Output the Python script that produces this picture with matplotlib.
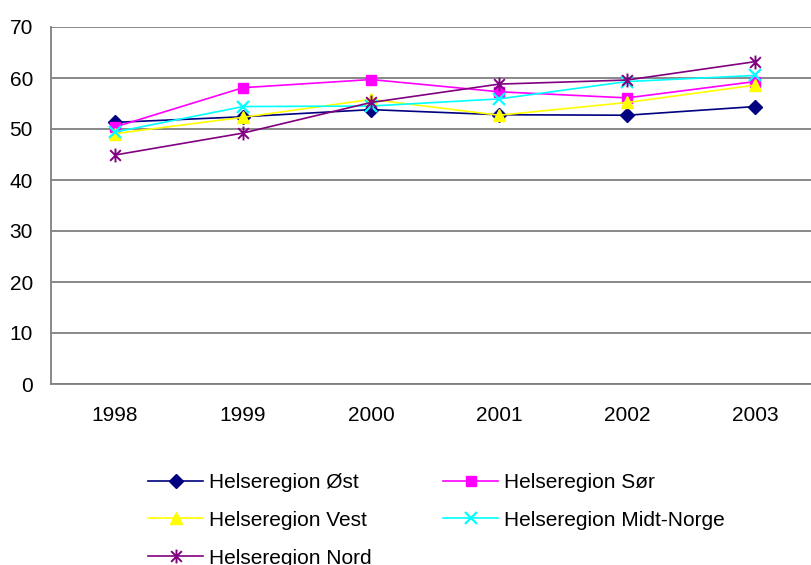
import matplotlib
matplotlib.use("Agg")
import matplotlib.pyplot as plt
from matplotlib.path import Path

plt.rcParams["font.family"] = ["Liberation Sans", "DejaVu Sans"]

years = ["1998", "1999", "2000", "2001", "2002", "2003"]

ost = [51.3, 52.4, 53.8, 52.8, 52.7, 54.4]
sor = [50.4, 58.1, 59.7, 57.3, 56.1, 59.3]
vest = [49.1, 52.3, 55.8, 52.7, 55.2, 58.6]
midt = [49.4, 54.4, 54.5, 55.9, 59.3, 60.5]
nord = [44.9, 49.2, 55.2, 58.8, 59.6, 63.2]

# Excel-style star: X plus a vertical bar
star = Path(
    [(-1, -1), (1, 1), (-1, 1), (1, -1), (0, -1.3), (0, 1.3)],
    [Path.MOVETO, Path.LINETO, Path.MOVETO, Path.LINETO, Path.MOVETO, Path.LINETO],
)

fig = plt.figure(figsize=(8.11, 5.65), dpi=100)
ax = fig.add_axes([51 / 811, 181 / 565, 768 / 811, 357 / 565])

x = list(range(len(years)))
lw = 1.2
h_ost, = ax.plot(x, ost, color="#000080", lw=lw, marker="D", ms=7.5,
                 label="Helseregion Øst", clip_on=False)
h_sor, = ax.plot(x, sor, color="#FF00FF", lw=lw, marker="s", ms=7,
                 label="Helseregion Sør", clip_on=False)
h_vest, = ax.plot(x, vest, color="#FFFF00", lw=lw, marker="^", ms=9,
                  label="Helseregion Vest", clip_on=False)
h_midt, = ax.plot(x, midt, color="#00FFFF", lw=lw, marker="x", ms=9, mew=1.6,
                  label="Helseregion Midt-Norge", clip_on=False)
h_nord, = ax.plot(x, nord, color="#800080", lw=lw, marker=star, ms=10, mew=1.4,
                  mfc="none", label="Helseregion Nord", clip_on=False)

ax.set_xlim(-0.5, 5.5)
ax.set_ylim(0, 70)
ax.set_yticks(range(0, 71, 10))
ax.set_xticks(x)
ax.set_xticklabels(years)
ax.tick_params(axis="both", length=0, labelsize=15)
ax.tick_params(axis="y", pad=13)
ax.tick_params(axis="x", pad=16)

ax.grid(axis="y", color="#808080", lw=1.3)
ax.set_axisbelow(True)
for side in ["top", "right"]:
    ax.spines[side].set_visible(False)
for side in ["left", "bottom"]:
    ax.spines[side].set_color("#808080")
    ax.spines[side].set_linewidth(1.3)

fig.legend(
    handles=[h_ost, h_vest, h_nord, h_sor, h_midt],
    loc="upper left",
    bbox_to_anchor=(148 / 811, 1 - 473 / 565),
    ncol=2,
    frameon=False,
    fontsize=15,
    borderpad=0,
    borderaxespad=0,
    handlelength=2.65,
    handletextpad=0.3,
    labelspacing=0.9,
    columnspacing=3.4,
)

fig.savefig("out.png", dpi=100)
